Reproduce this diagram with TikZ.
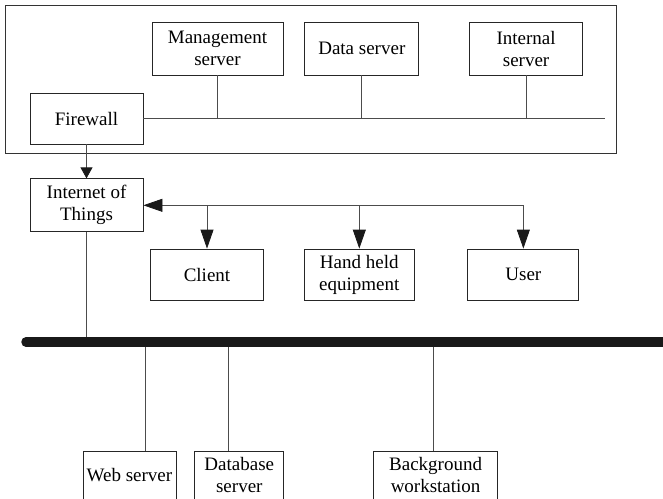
\documentclass[tikz,border=0pt]{standalone}
\usepackage{fontspec}
\setmainfont{Liberation Serif}
\usetikzlibrary{arrows.meta, positioning}

\begin{document}
\begin{tikzpicture}[x=1pt, y=-1pt, line width=0.8pt,
    box/.style={draw=black!85, inner sep=1pt, align=center, minimum height=53pt,
      font=\fontsize{19}{22}\selectfont, text=black},
    link/.style={draw=black!70},
    arr/.style={link, -{Triangle[length=19pt, width=13pt, color=black!90]}},
    shortarr/.style={link, -{Triangle[length=11pt, width=12pt, color=black!90]}}]
    \clip (0,0) rectangle (663,498);
    % intranet
    \draw[black!80] (5,5) rectangle (616,153);
    \node[box, minimum width=131pt] (mgmt) at (217.5,48.5) {Management\\server};
    \node[box, minimum width=114pt, right=21pt of mgmt] (datasrv) {Data server};
    \node[box, minimum width=113pt, right=50pt of datasrv] (intsrv) {Internal\\server};
    \node[box, minimum width=113pt, minimum height=51pt] (firewall) at (86.5,118.5) {Firewall};
    \coordinate (lanend) at (605,118.5);
    \draw[link] (firewall.east) -- (lanend);
    \draw[link] (mgmt.south) -- (mgmt.south |- lanend);
    \draw[link] (datasrv.south) -- (datasrv.south |- lanend);
    \draw[link] (intsrv.south) -- (intsrv.south |- lanend);

    % internet of things
    \node[box, minimum width=113pt, below=34pt of firewall] (iot) {Internet of\\Things};
    \node[box, minimum width=112.5pt, minimum height=51pt] (client) at (207,274.5) {Client};
    \node[box, minimum width=110.5pt, minimum height=51pt, right=40pt of client] (handheld) {Hand held\\equipment};
    \node[box, minimum width=111pt, minimum height=51pt, right=52.5pt of handheld] (user) {User};
    \draw[shortarr] (firewall.south) -- (iot.north);
    \draw[arr] (user.north |- iot.east) -- (iot.east);
    \draw[arr] (client.north |- iot.east) -- (client.north);
    \draw[arr] (handheld.north |- iot.east) -- (handheld.north);
    \draw[arr] (user.north |- iot.east) -- (user.north);

    % backbone
    \coordinate (busl) at (26,342);
    \coordinate (busr) at (680,342);
    \coordinate (tapweb) at (145,342);
    \coordinate (tapdb) at (228,342);
    \coordinate (tapbg) at (433,342);
    \node[box, minimum width=93pt, minimum height=48pt] (websrv) at (129.5,475) {Web server};
    \node[box, minimum width=89pt, minimum height=48pt, right=18pt of websrv] (dbsrv) {Database\\server};
    \node[box, minimum width=124pt, minimum height=48pt, right=89pt of dbsrv] (bgws) {Background\\workstation};
    \draw[link] (iot.south) -- (iot.south |- busl);
    \draw[link] (tapweb) -- (tapweb |- websrv.north);
    \draw[link] (tapdb) -- (tapdb |- dbsrv.north);
    \draw[link] (tapbg) -- (tapbg |- bgws.north);
    \draw[line width=9.5pt, line cap=round, black!90] (busl) -- (busr);
\end{tikzpicture}
\end{document}
